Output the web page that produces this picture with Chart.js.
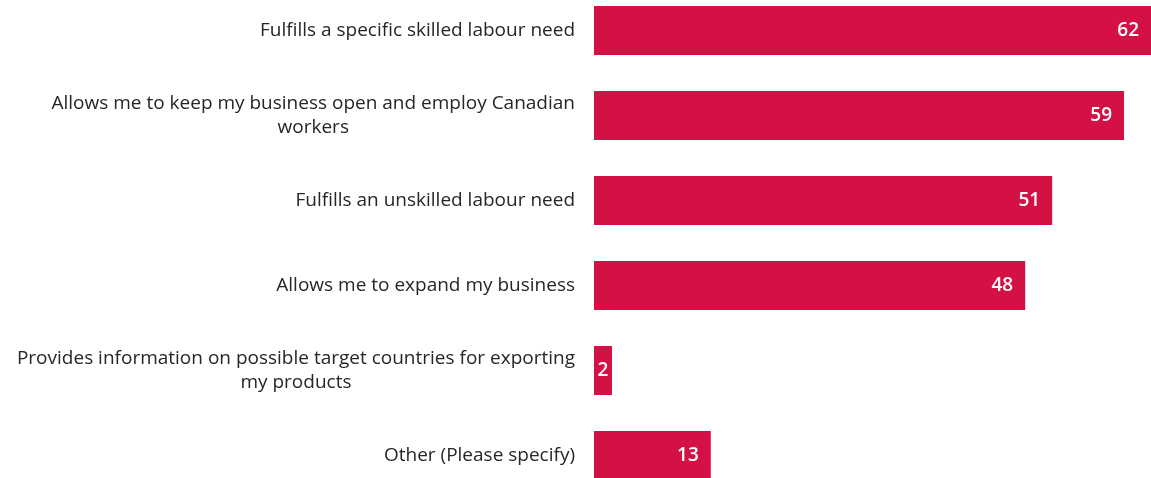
<!DOCTYPE html>
<html lang="en">
<head>
  <meta charset="UTF-8">
  <title>Reasons for hiring</title>
  <script src="https://cdn.jsdelivr.net/npm/chart.js"></script>
  <style>
    html, body {
      margin: 0;
      padding: 0;
      background: #fff;
      overflow: hidden;
      width: 1151px;
      height: 478px;
    }
    .chart-box {
      position: absolute;
      left: 0;
      top: -12px;
      width: 1151px;
      height: 510px;
    }
  </style>
</head>
<body>
  <div class="chart-box">
    <canvas id="reasonsChart"></canvas>
  </div>

  <script>
    // Categories (already split into the lines they wrap to)
    const categories = [
      ['Fulfills a specific skilled labour need'],
      ['Allows me to keep my business open and employ Canadian', 'workers'],
      ['Fulfills an unskilled labour need'],
      ['Allows me to expand my business'],
      ['Provides information on possible target countries for exporting', 'my products'],
      ['Other (Please specify)']
    ];
    const values = [62, 59, 51, 48, 2, 13];
    const axisMax = 62;

    const barColor = '#d31145';
    const labelFont = '19px "Open Sans", sans-serif';
    const valueFont = '600 19px "Open Sans", sans-serif';

    // Left-side category labels: right edge fixed, extra lines centred under the first
    const categoryLabels = {
      id: 'categoryLabels',
      afterDraw(chart) {
        const ctx = chart.ctx;
        const yScale = chart.scales.y;
        const rightEdge = chart.chartArea.left - 19;
        const lineHeight = 24;
        ctx.save();
        ctx.font = labelFont;
        ctx.fillStyle = '#262626';
        ctx.textBaseline = 'middle';
        ctx.textAlign = 'center';
        categories.forEach((lines, i) => {
          const widest = Math.max(...lines.map(l => ctx.measureText(l).width));
          const cx = rightEdge - widest / 2;
          const cy = yScale.getPixelForValue(i);
          const startY = cy - (lines.length - 1) * lineHeight / 2;
          lines.forEach((line, j) => {
            ctx.fillText(line, cx, startY + j * lineHeight);
          });
        });
        ctx.restore();
      }
    };

    // Value labels inside the end of each bar
    const valueLabels = {
      id: 'valueLabels',
      afterDatasetsDraw(chart) {
        const ctx = chart.ctx;
        const meta = chart.getDatasetMeta(0);
        ctx.save();
        ctx.font = valueFont;
        ctx.fillStyle = '#ffffff';
        ctx.textBaseline = 'middle';
        meta.data.forEach((bar, i) => {
          const text = String(values[i]);
          const w = ctx.measureText(text).width;
          const barWidth = bar.x - bar.base;
          if (barWidth < w + 24) {
            ctx.textAlign = 'center';
            ctx.fillText(text, bar.base + barWidth / 2, bar.y);
          } else {
            ctx.textAlign = 'right';
            ctx.fillText(text, bar.x - 12, bar.y);
          }
        });
        ctx.restore();
      }
    };

    document.addEventListener('DOMContentLoaded', () => {
      const ctx = document.getElementById('reasonsChart').getContext('2d');
      new Chart(ctx, {
        type: 'bar',
        data: {
          labels: categories,
          datasets: [{
            data: values,
            backgroundColor: barColor,
            borderWidth: 0,
            categoryPercentage: 1,
            barPercentage: 0.576
          }]
        },
        options: {
          indexAxis: 'y',
          responsive: true,
          maintainAspectRatio: false,
          animation: false,
          layout: { padding: 0 },
          plugins: {
            legend: { display: false },
            tooltip: { enabled: false }
          },
          scales: {
            x: {
              display: false,
              min: 0,
              max: axisMax
            },
            y: {
              grid: { display: false },
              border: { display: false },
              ticks: { display: false },
              afterFit(scale) {
                scale.width = 594;
              }
            }
          }
        },
        plugins: [categoryLabels, valueLabels]
      });
    });
  </script>
</body>
</html>
